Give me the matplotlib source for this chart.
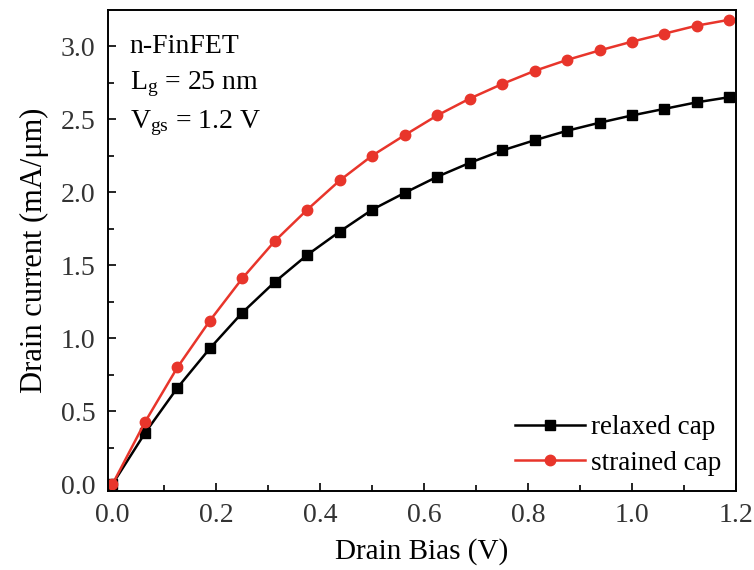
import matplotlib
matplotlib.use("Agg")
import matplotlib.pyplot as plt
from matplotlib.ticker import MultipleLocator, FormatStrFormatter

# drain bias points (V)
bias = [0.0, 0.0625, 0.125, 0.1875, 0.25, 0.3125, 0.375, 0.4375, 0.5, 0.5625,
        0.625, 0.6875, 0.75, 0.8125, 0.875, 0.9375, 1.0, 1.0625, 1.125, 1.1875]

# drain current (mA/um)
relaxed = [0.0, 0.35, 0.66, 0.93, 1.175, 1.385, 1.57, 1.73, 1.88, 1.995,
           2.105, 2.20, 2.285, 2.355, 2.42, 2.475, 2.525, 2.57, 2.615, 2.65]
strained = [0.0, 0.425, 0.80, 1.12, 1.41, 1.665, 1.88, 2.08, 2.25, 2.39,
            2.525, 2.64, 2.74, 2.83, 2.905, 2.97, 3.03, 3.085, 3.14, 3.18]

plt.rcParams['font.family'] = ['Liberation Serif', 'DejaVu Serif']
plt.rcParams['mathtext.fontset'] = 'custom'
plt.rcParams['mathtext.rm'] = 'Liberation Serif'
plt.rcParams['mathtext.it'] = 'Liberation Serif:italic'

fig = plt.figure(figsize=(7.54, 5.70), dpi=100)
ax = fig.add_axes([0.143, 0.139, 0.833, 0.843])

ax.plot(bias, relaxed, color='black', lw=1.8, marker='s', ms=6.5, label='relaxed cap')
ax.plot(bias, strained, color='#e8352b', lw=1.8, marker='o', ms=7.5, label='strained cap')

ax.set_xlim(-0.009, 1.2)
ax.set_ylim(-0.045, 3.245)
ax.xaxis.set_major_locator(MultipleLocator(0.2))
ax.xaxis.set_minor_locator(MultipleLocator(0.1))
ax.yaxis.set_major_locator(MultipleLocator(0.5))
ax.yaxis.set_minor_locator(MultipleLocator(0.25))
ax.xaxis.set_major_formatter(FormatStrFormatter('%.1f'))
ax.yaxis.set_major_formatter(FormatStrFormatter('%.1f'))
ax.tick_params(which='both', direction='in', labelsize=20, width=1.2, colors='black', labelcolor='#333333')
ax.tick_params(which='major', length=6, pad=9)
ax.tick_params(which='minor', length=4)
for s in ax.spines.values():
    s.set_linewidth(1.4)

ax.set_xlabel('Drain Bias (V)', fontsize=21, labelpad=7)
ax.set_ylabel('Drain current (mA/\u03bcm)', fontsize=22, labelpad=8)

ax.text(0.035, 0.925, 'n-FinFET', transform=ax.transAxes, fontsize=20, va='center')
ax.text(0.035, 0.846, r'L$_\mathrm{g}$ = 25 nm', transform=ax.transAxes, fontsize=20, va='center')
ax.text(0.035, 0.766, r'V$_\mathrm{gs}$ = 1.2 V', transform=ax.transAxes, fontsize=20, va='center')

ax.legend(loc='lower right', frameon=False, fontsize=19.5, handlelength=2.6,
          handletextpad=0.2, labelspacing=0.4, borderaxespad=0.15)

fig.savefig('out.png', dpi=100)
